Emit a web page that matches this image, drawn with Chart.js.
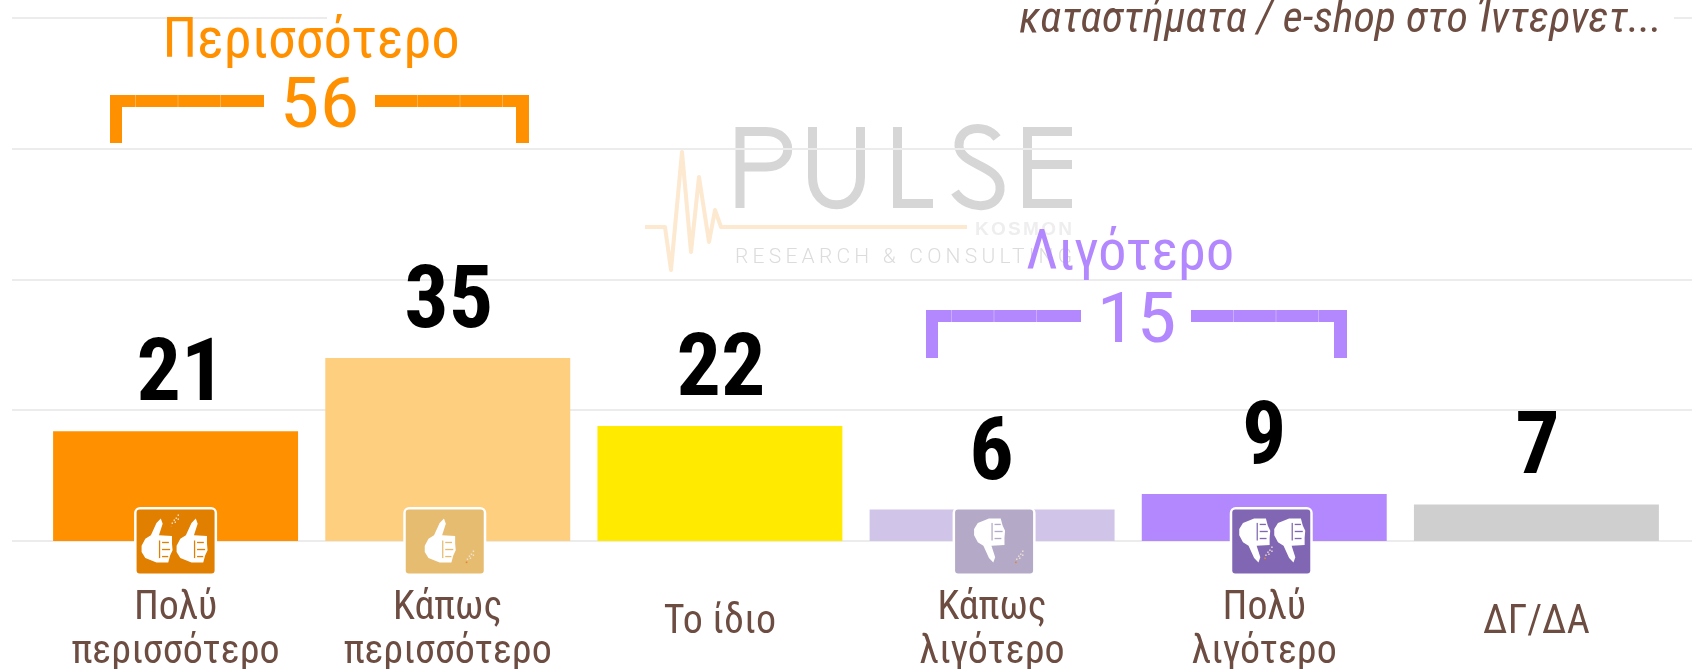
<!DOCTYPE html>
<html><head><meta charset="utf-8">
<style>html,body{margin:0;padding:0;background:#fff;overflow:hidden}#w{width:1692px;height:669px;position:relative}</style>
<script src="https://cdn.jsdelivr.net/npm/chart.js@4"></script></head>
<body><div id="w"><canvas id="c" width="1692" height="669"></canvas></div>
<script>
const categories=[['Πολύ','περισσότερο'],['Κάπως','περισσότερο'],'Το ίδιο',['Κάπως','λιγότερο'],['Πολύ','λιγότερο'],'ΔΓ/ΔΑ'];
const values=[21,35,22,6,9,7];
const barColors=['#FF9000','#FFCF80','#FFEA00','#D1C4E9','#B388FF','#CFCFCF'];
const yTicks=[0,25,50,75,100];
const titleText='καταστήματα / e-shop στο Ίντερνετ...';
const groupMore=['Περισσότερο','56'];
const groupLess=['Λιγότερο','15'];
const FONT='"Liberation Sans Narrow","Roboto Condensed",Roboto,sans-serif';
const BROWN='#6D4C41';

function thumb(ctx,x,y,w,h,down,col,bg){
  ctx.save();ctx.translate(x,y);ctx.scale(w,down?-h:h);if(down)ctx.translate(0,-1);
  ctx.fillStyle=col;ctx.beginPath();
  ctx.moveTo(0,.62);ctx.lineTo(.12,.46);ctx.lineTo(.3,.38);ctx.lineTo(.48,.1);ctx.lineTo(.62,0);ctx.lineTo(.68,.12);ctx.lineTo(.56,.38);
  ctx.lineTo(.98,.4);ctx.lineTo(.98,.56);ctx.lineTo(1,.72);ctx.lineTo(.92,.84);ctx.lineTo(.86,1);ctx.lineTo(.48,1);ctx.lineTo(.12,.9);ctx.lineTo(0,.76);ctx.closePath();ctx.fill();
  ctx.fillStyle=bg;ctx.fillRect(.66,.53,.22,.03);ctx.fillRect(.66,.69,.26,.03);ctx.fillRect(.66,.85,.2,.03);ctx.fillRect(.56,.5,.04,.4);
  ctx.restore();
}
function sparkle(ctx,x,y,col){
  ctx.save();ctx.fillStyle=col;[[0,8],[2,5],[4,3],[6,0],[3,7],[6,4]].forEach(p=>ctx.fillRect(x+p[0],y+p[1],1.4,1.4));
  ctx.fillStyle='#e8842a';ctx.fillRect(x-1,y+11,1.6,1.6);ctx.restore();
}
function icon(ctx,cx,bg,n,down){
  const x=cx-40,y=508.5,w=80,h=66;
  ctx.save();
  ctx.fillStyle='#fff';ctx.beginPath();ctx.roundRect(x-1.5,y-1.5,w+3,h+2.5,6);ctx.fill();
  ctx.fillStyle=bg;ctx.beginPath();ctx.roundRect(x+1,y+1,w-2,h-2,3);ctx.fill();
  if(n===2){thumb(ctx,x+(down?8:6),y+10,31,44,down,'#fff',bg);thumb(ctx,x+(down?43:41),y+10,31,44,down,'#fff',bg);sparkle(ctx,x+(down?34:36),y+(down?38:6),'#f3e4d4');}
  else{thumb(ctx,x+20,y+10,31,44,down,'#fff',bg);sparkle(ctx,x+62,y+42,'#f3e4d4');}
  ctx.restore();
}
function bracket(ctx,col,xl,xr,top,gapL,gapR,bot){
  ctx.fillStyle=col;
  ctx.fillRect(xl,top,gapL-xl,12);ctx.fillRect(xl,top,12,bot-top);
  ctx.fillRect(gapR,top,xr-gapR,12);ctx.fillRect(xr-13,top,13,bot-top);
  ctx.fillStyle='rgba(255,255,255,.3)';
  [0,42.5,85].forEach(d=>{ctx.fillRect(xl+25+d,top,1,12);ctx.fillRect(gapR+42+d,top,1,12);});
}
function text(ctx,s,x,y,font,col,align,sx){
  ctx.save();ctx.font=font;ctx.fillStyle=col;ctx.textAlign=align||'center';ctx.textBaseline='alphabetic';
  ctx.translate(x,y);ctx.scale(sx||1,1);ctx.fillText(s,0,0);ctx.restore();
}
function spaced(ctx,s,x,y,width,font,col){
  ctx.save();ctx.font=font;ctx.fillStyle=col;ctx.textAlign='left';ctx.letterSpacing='0px';
  const sp=(width-ctx.measureText(s).width)/(s.length-1);
  ctx.letterSpacing=sp+'px';ctx.fillText(s,x,y);ctx.restore();
}
const background={id:'background',beforeDatasetsDraw(ch){
  const ctx=ch.ctx,y=ch.scales.y;ctx.save();
  // watermark
  ctx.strokeStyle='#d6d6d6';ctx.lineWidth=9;ctx.lineJoin='miter';ctx.lineCap='butt';
  ctx.beginPath();ctx.moveTo(740,208);ctx.lineTo(740,131.5);ctx.lineTo(766,131.5);ctx.bezierCurveTo(795,131.5,795,167,766,167);ctx.lineTo(740,167);ctx.stroke();
  ctx.beginPath();ctx.moveTo(812.5,127);ctx.lineTo(812.5,177);ctx.bezierCurveTo(812.5,214,860.5,214,860.5,177);ctx.lineTo(860.5,127);ctx.stroke();
  ctx.beginPath();ctx.moveTo(897.5,127);ctx.lineTo(897.5,203.5);ctx.lineTo(933,203.5);ctx.stroke();
  ctx.beginPath();ctx.moveTo(997,138);ctx.bezierCurveTo(985,122,958,127,959,146);ctx.bezierCurveTo(960,165,998,165,1000,186);ctx.bezierCurveTo(1002,210,968,212,955,192);ctx.stroke();
  ctx.beginPath();ctx.moveTo(1072,131.5);ctx.lineTo(1027.5,131.5);ctx.lineTo(1027.5,203.5);ctx.lineTo(1072,203.5);ctx.moveTo(1027,164.5);ctx.lineTo(1072,164.5);ctx.stroke();
  ctx.strokeStyle='#fde8d0';ctx.lineWidth=4;ctx.lineJoin='round';ctx.beginPath();
  [[645,227],[665,227],[671,270],[682,152],[691,252],[699,177],[709,242],[715,210],[721,227],[967,227]].forEach((p,i)=>i?ctx.lineTo(p[0],p[1]):ctx.moveTo(p[0],p[1]));ctx.stroke();
  spaced(ctx,'KOSMON',975,235,97,'bold 19px "Liberation Sans"','#eeeeee');
  spaced(ctx,'RESEARCH & CONSULTING',735,263,337,'300 21px Roboto','#dcdcdc');
  // full-bleed grid
  ctx.fillStyle='#ececec';
  yTicks.forEach(t=>{const p=Math.round(y.getPixelForValue(t));
    if(t===100){ctx.fillRect(12,p-1,315,2);ctx.fillRect(1674,p-1,18,2);}else ctx.fillRect(12,p-1,1680,2);});
  ctx.restore();
}};
const overlay={id:'overlay',afterDatasetsDraw(ch){
  const ctx=ch.ctx,meta=ch.getDatasetMeta(0);ctx.save();
  meta.data.forEach((b,i)=>{
    text(ctx,String(values[i]),b.x+[5.5,1,1,-0.5,0,1][i],b.y-31,'bold 88px '+FONT,'#000','center',1);
  });
  const X=i=>meta.data[i].x;
  icon(ctx,X(0),'#E07F00',2,false);icon(ctx,X(1)-3,'#E6BC70',1,false);icon(ctx,X(3)+2,'#B5A9C8',1,true);icon(ctx,X(4)+7,'#8166B3',2,true);
  text(ctx,groupMore[0],311,57,'56px '+FONT,'#FF9000');
  text(ctx,groupMore[1],319.5,127,'70px '+FONT,'#FF9000','center',1.16);
  bracket(ctx,'#FF9000',110,529,95,264,375,143);
  text(ctx,groupLess[0],1130,269,'56px '+FONT,'#B388FF');
  text(ctx,groupLess[1],1136.5,342,'70px '+FONT,'#B388FF','center',1.16);
  bracket(ctx,'#B388FF',926,1347,310,1081,1191,358);
  text(ctx,titleText,1662,32,'italic 44px '+FONT,BROWN,'right');
  ctx.restore();
}};
new Chart(document.getElementById('c'),{
  type:'bar',
  data:{labels:categories,datasets:[{data:values,backgroundColor:barColors,categoryPercentage:1,barPercentage:.9,borderWidth:0}]},
  plugins:[background,overlay],
  options:{responsive:false,animation:false,
    layout:{padding:{left:39.5,right:19.5,top:18,bottom:0}},
    plugins:{legend:{display:false},tooltip:{enabled:false},title:{display:false}},
    scales:{
      y:{min:0,max:100,afterBuildTicks(s){s.ticks=yTicks.map(v=>({value:v}));},ticks:{display:false},grid:{display:false},border:{display:false},afterFit(s){s.width=0;}},
      x:{grid:{display:false},border:{display:false},afterFit(s){s.height=128;},
        ticks:{color:BROWN,maxRotation:0,autoSkip:false,padding:60,crossAlign:'center',
          font:c=>({family:FONT,size:40,lineHeight:Array.isArray(categories[c.index])?44/40:60/40})}}
    }}
});
</script></body></html>
